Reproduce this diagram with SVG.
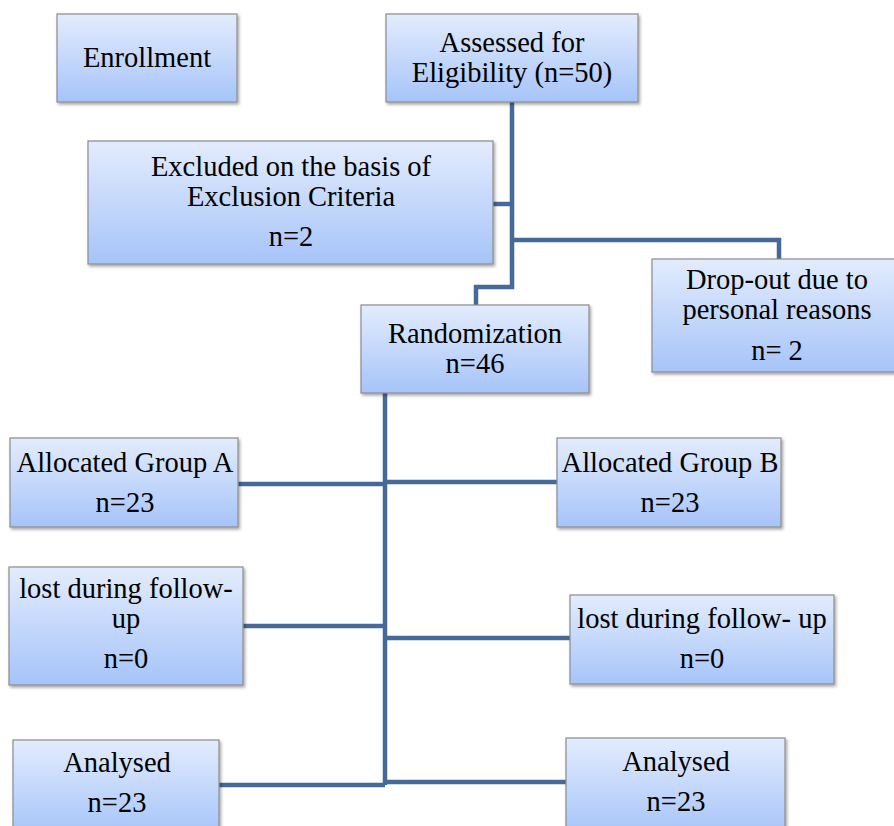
<svg xmlns="http://www.w3.org/2000/svg" width="894" height="826" viewBox="0 0 894 826">
<defs>
<linearGradient id="g" x1="0" y1="0" x2="0" y2="1">
<stop offset="0" stop-color="#e3ecfd"/>
<stop offset="1" stop-color="#a6c4f9"/>
</linearGradient>
<filter id="sh" x="-10%" y="-10%" width="130%" height="130%">
<feDropShadow dx="1.5" dy="2" stdDeviation="1.5" flood-color="#000" flood-opacity="0.35"/>
</filter>
</defs>
<style>
.box{fill:url(#g);stroke:#8c8c8c;stroke-width:1.2;filter:url(#sh)}
text{font-family:"Liberation Serif","Times New Roman",serif;font-size:28.5px;fill:#000;text-anchor:middle}
.c{fill:none;stroke:#46699a;stroke-width:4.5;stroke-linejoin:miter}
</style>
<rect width="894" height="826" fill="#fff"/>
<g id="connectors">
<path class="c" d="M512,102 V287 H476 V305"/>
<path class="c" d="M493,204 H512"/>
<path class="c" d="M512,240 H779 V259"/>
<path class="c" d="M385,393 V785"/>
<path class="c" d="M238,484 H385"/>
<path class="c" d="M385,482 H557"/>
<path class="c" d="M243,626 H385"/>
<path class="c" d="M385,638 H570"/>
<path class="c" d="M219,785 H385"/>
<path class="c" d="M385,782 H566"/>
</g>
<g id="enrollment"><rect class="box" x="57" y="14" width="180" height="88"/><text x="147" y="67">Enrollment</text></g>
<g id="assessed"><rect class="box" x="386" y="14" width="252" height="88"/><text x="512" y="52">Assessed for</text><text x="512" y="82">Eligibility (n=50)</text></g>
<g id="excluded"><rect class="box" x="88" y="141" width="405" height="123"/><text x="291" y="176">Excluded on the basis of</text><text x="291" y="206">Exclusion Criteria</text><text x="291" y="246">n=2</text></g>
<g id="dropout"><rect class="box" x="652" y="259" width="245" height="113"/><text x="777" y="289">Drop-out due to</text><text x="777" y="319">personal reasons</text><text x="777" y="360">n= 2</text></g>
<g id="randomization"><rect class="box" x="361" y="305" width="228" height="88"/><text x="475" y="343">Randomization</text><text x="475" y="373">n=46</text></g>
<g id="allocA"><rect class="box" x="10" y="438" width="228" height="89"/><text x="125" y="472">Allocated Group A</text><text x="125" y="512">n=23</text></g>
<g id="allocB"><rect class="box" x="557" y="438" width="224" height="89"/><text x="670" y="472">Allocated Group B</text><text x="670" y="512">n=23</text></g>
<g id="lostA"><rect class="box" x="9" y="567" width="234" height="118"/><text x="126" y="598">lost during follow-</text><text x="126" y="628">up</text><text x="126" y="668">n=0</text></g>
<g id="lostB"><rect class="box" x="570" y="595" width="264" height="89"/><text x="702" y="628">lost during follow- up</text><text x="702" y="668">n=0</text></g>
<g id="analysedA"><rect class="box" x="13" y="740" width="206" height="95"/><text x="117" y="772">Analysed</text><text x="117" y="812">n=23</text></g>
<g id="analysedB"><rect class="box" x="566" y="738" width="219" height="97"/><text x="676" y="771">Analysed</text><text x="676" y="811">n=23</text></g>
</svg>
